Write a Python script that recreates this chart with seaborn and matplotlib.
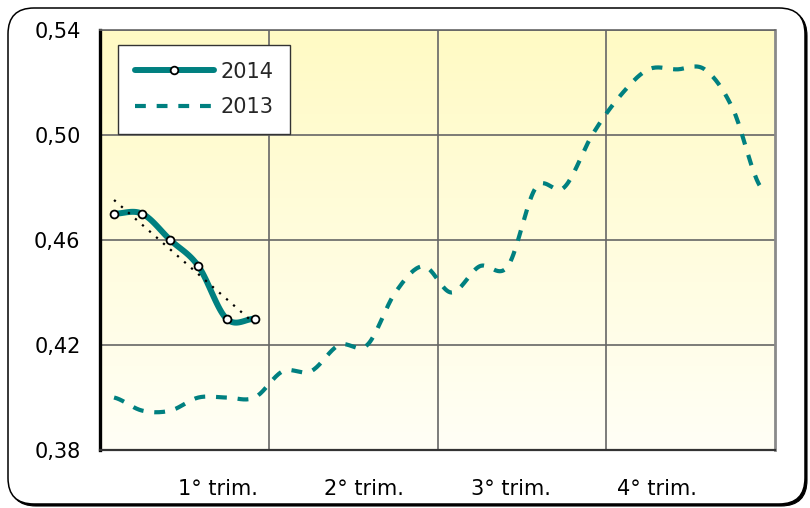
import numpy as np
import matplotlib
matplotlib.use("Agg")
import matplotlib.pyplot as plt
from matplotlib.patches import FancyBboxPatch
from matplotlib.lines import Line2D
from matplotlib.transforms import IdentityTransform
import seaborn as sns

# half-month categories (24 per year)
half_months = np.arange(24)
v2013 = [0.400, 0.395, 0.395, 0.400, 0.400, 0.400, 0.410, 0.410, 0.420, 0.420, 0.440, 0.450,
         0.440, 0.450, 0.450, 0.480, 0.480, 0.500, 0.515, 0.525, 0.525, 0.525, 0.510, 0.480]
v2014 = [0.470, 0.470, 0.460, 0.450, 0.430, 0.430]
quarter_labels = ["1° trim.", "2° trim.", "3° trim.", "4° trim."]
yticks = [0.38, 0.42, 0.46, 0.50, 0.54]

teal = "#008080"


def smooth(x, y, n=20):
    # Excel-like smoothed line (Catmull-Rom through the points)
    x = np.asarray(x, float)
    y = np.asarray(y, float)
    p = np.concatenate([[y[0]], y, [y[-1]]])
    xs, ys = [], []
    t = np.linspace(0, 1, n, endpoint=False)
    for i in range(len(y) - 1):
        p0, p1, p2, p3 = p[i], p[i + 1], p[i + 2], p[i + 3]
        m1 = (p2 - p0) / 2
        m2 = (p3 - p1) / 2
        h = ((2 * t**3 - 3 * t**2 + 1) * p1 + (t**3 - 2 * t**2 + t) * m1
             + (-2 * t**3 + 3 * t**2) * p2 + (t**3 - t**2) * m2)
        xs.append(x[i] + t * (x[i + 1] - x[i]))
        ys.append(h)
    xs.append([x[-1]])
    ys.append([y[-1]])
    return np.concatenate(xs), np.concatenate(ys)


sns.set_style("white")
plt.rcParams["font.family"] = ["DejaVu Sans"]

fig = plt.figure(figsize=(8.1, 5.08), dpi=100)
fig.patch.set_facecolor("white")

# rounded outer frame with a small shadow (pixel coordinates)
shadow = FancyBboxPatch((10, 2), 797, 496, boxstyle="round,pad=0,rounding_size=26",
                        transform=IdentityTransform(), facecolor="black", edgecolor="black",
                        linewidth=0.8, zorder=-3)
frame = FancyBboxPatch((8, 4), 797, 496, boxstyle="round,pad=0,rounding_size=26",
                       transform=IdentityTransform(), facecolor="white", edgecolor="black",
                       linewidth=1.1, zorder=-2)
fig.patches.extend([shadow, frame])

ax = fig.add_axes([100 / 810, 1 - 450 / 508, 675 / 810, 420 / 508])
ax.set_facecolor("none")

# yellow-to-white gradient background
grad = np.linspace(0, 1, 256).reshape(-1, 1)
cmap = matplotlib.colors.LinearSegmentedColormap.from_list("bg", ["#fffff6", "#fffac4"])
ax.imshow(grad, extent=[-0.5, 23.5, 0.38, 0.54], origin="lower", aspect="auto",
          cmap=cmap, zorder=0)

xs13, ys13 = smooth(half_months, v2013)
sns.lineplot(x=xs13, y=ys13, sort=False, estimator=None, color=teal, linewidth=3.0,
             linestyle=(0, (2.6, 2.6)), ax=ax, zorder=3)

xs14, ys14 = smooth(half_months[:len(v2014)], v2014)
sns.lineplot(x=xs14, y=ys14, sort=False, estimator=None, color=teal, linewidth=4.3,
             solid_capstyle="round", ax=ax, zorder=3)

sns.regplot(x=half_months[:len(v2014)], y=v2014, ci=None, scatter=False, truncate=True,
            line_kws=dict(color="black", linewidth=1.6, linestyle=(0, (1, 3.2)), zorder=4),
            ax=ax)

sns.scatterplot(x=half_months[:len(v2014)], y=v2014, marker="o", s=32, color="white",
                edgecolor="black", linewidth=1.3, ax=ax, zorder=5)

ax.set_xlim(-0.5, 23.5)
ax.set_ylim(0.38, 0.54)
ax.set_xlabel("")
ax.set_ylabel("")

ax.set_yticks(yticks)
ax.set_yticklabels([f"{v:.2f}".replace(".", ",") for v in yticks])
ax.set_xticks([5.5, 11.5, 17.5])
ax.set_xticklabels([])
ax.set_xticks([3.7, 8.9, 14.1, 19.3], minor=True)
ax.set_xticklabels(quarter_labels, minor=True)
ax.tick_params(axis="both", which="both", length=0, labelsize=15, colors="black")
ax.tick_params(axis="y", pad=14)
ax.tick_params(axis="x", which="minor", pad=21)

ax.set_axisbelow(True)
ax.grid(True, which="major", color="#666666", linewidth=1.2)

ax.spines["left"].set_color("black")
ax.spines["left"].set_linewidth(2.4)
ax.spines["bottom"].set_color("#333333")
ax.spines["bottom"].set_linewidth(1.6)
ax.spines["right"].set_color("#8a8a8a")
ax.spines["right"].set_linewidth(2.0)
ax.spines["top"].set_color("#666666")
ax.spines["top"].set_linewidth(1.2)
for s in ax.spines.values():
    s.set_visible(True)
    s.set_zorder(6)

handles = [
    Line2D([], [], color=teal, linewidth=4.3, solid_capstyle="round", marker="o",
           markersize=5.5, markerfacecolor="white", markeredgecolor="black",
           markeredgewidth=1.3),
    Line2D([], [], color=teal, linewidth=3.0, linestyle=(0, (2.6, 2.6))),
]
leg = ax.legend(handles, ["2014", "2013"], loc="upper left", bbox_to_anchor=(0.027, 0.964),
                borderaxespad=0, frameon=True, fancybox=False, fontsize=15,
                handlelength=3.8, handletextpad=0.3, labelspacing=0.75, borderpad=0.8,
                numpoints=1)
leg.get_frame().set_edgecolor("#333333")
leg.get_frame().set_linewidth(1.0)
leg.get_frame().set_facecolor("white")
leg.get_frame().set_alpha(1)
leg.set_zorder(7)

fig.savefig("out.png", dpi=100)
